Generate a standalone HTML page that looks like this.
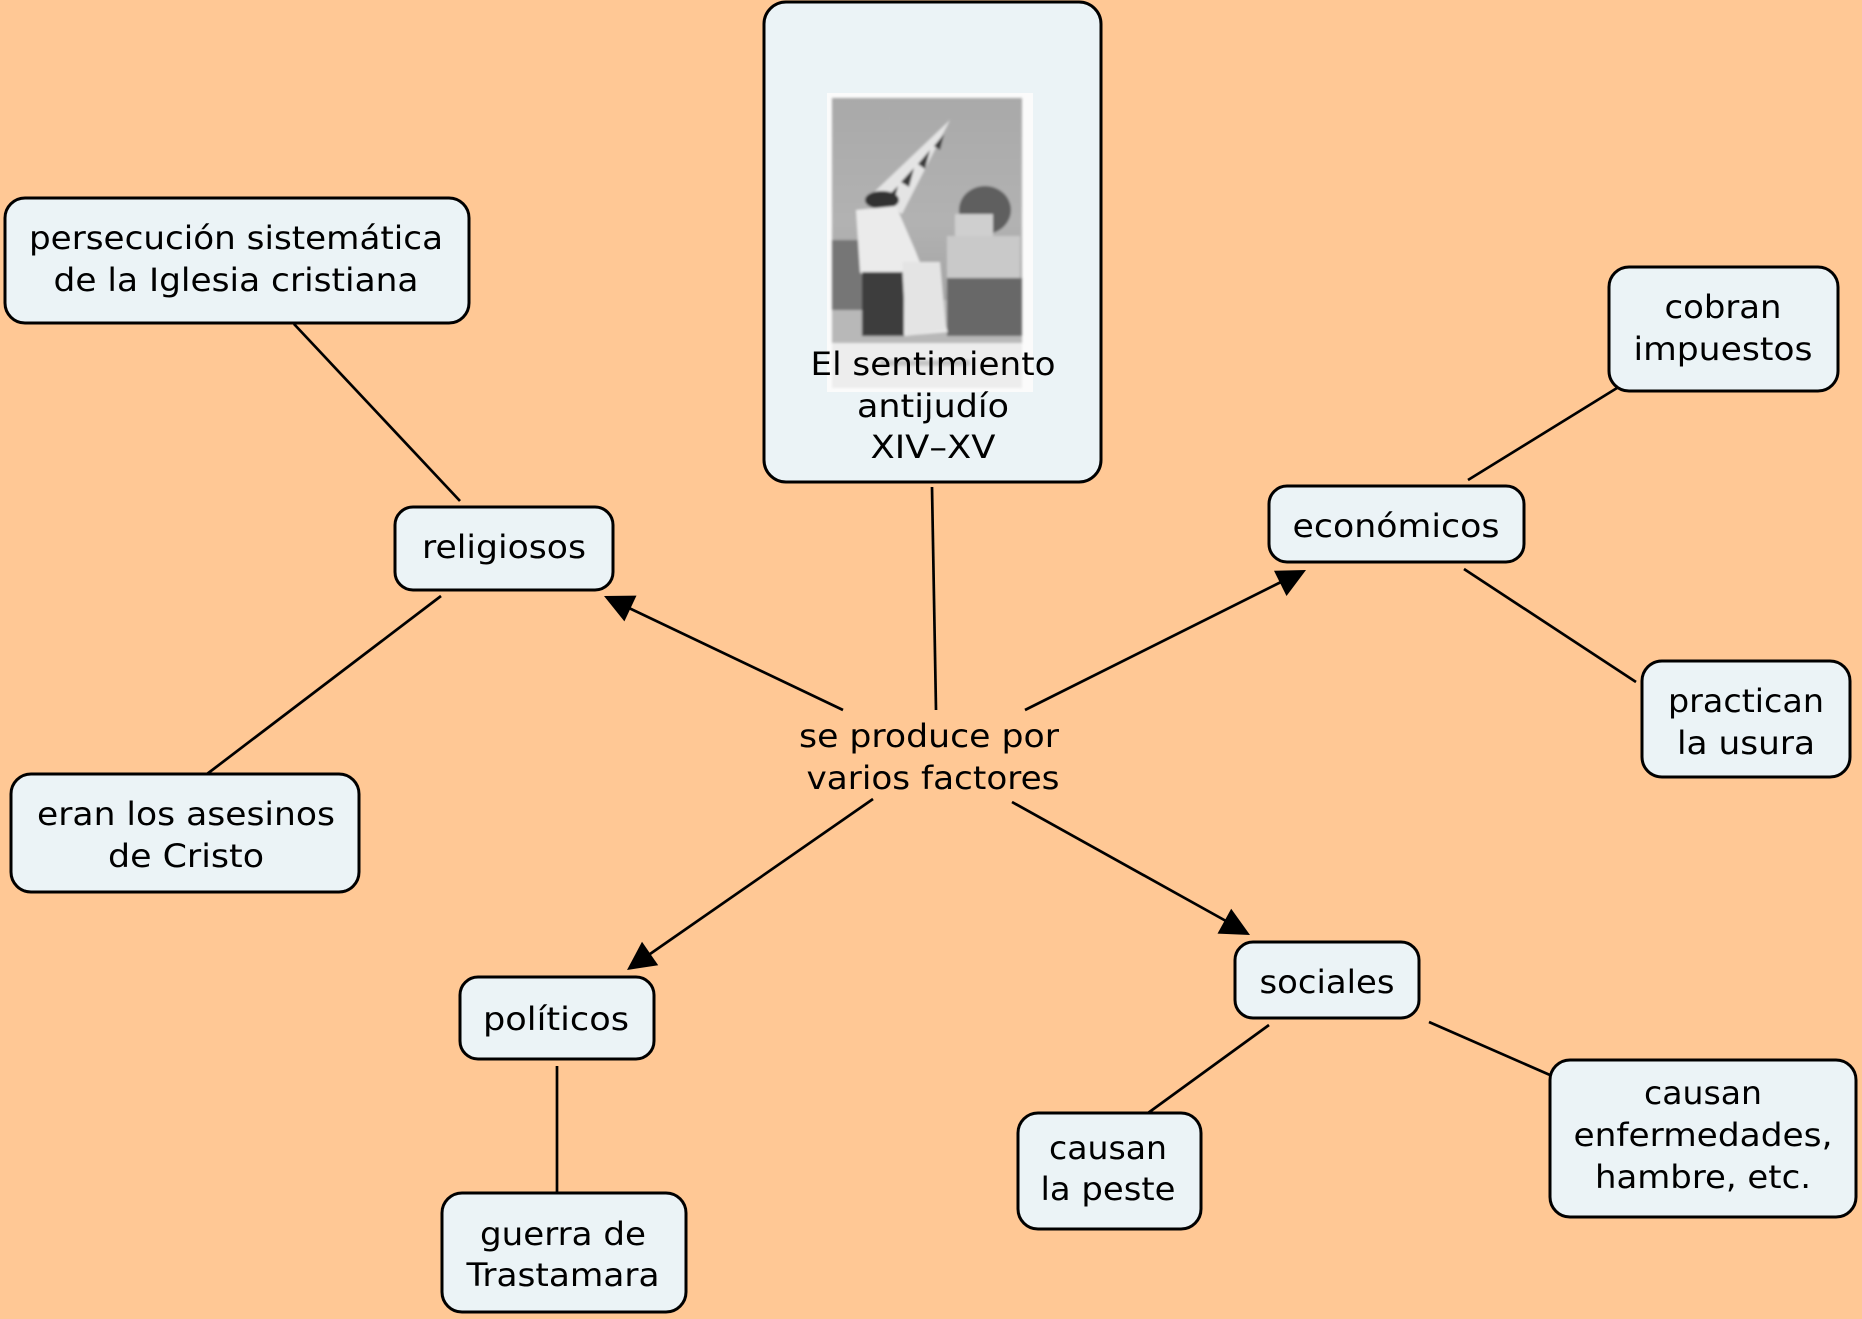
<!DOCTYPE html>
<html><head><meta charset="utf-8">
<style>
html,body{margin:0;padding:0;background:#ffc895;}
svg{display:block;}
text{font-family:"DejaVu Sans","Liberation Sans",sans-serif;font-size:32px;fill:#000;}
</style></head>
<body>
<svg width="1862" height="1319" viewBox="0 0 1862 1319" xmlns="http://www.w3.org/2000/svg">
<defs>
<linearGradient id="eg" x1="0" y1="0" x2="0" y2="1">
<stop offset="0" stop-color="#a9a9a9"/>
<stop offset="0.5" stop-color="#b2b2b2"/>
<stop offset="1" stop-color="#9a9a9a"/>
</linearGradient>
<filter id="bl"><feGaussianBlur stdDeviation="1.4"/></filter>
</defs>
<rect width="1862" height="1319" fill="#ffc895"/>

<!-- connectors -->
<g stroke="#000" stroke-width="2.7" fill="none">
<line x1="932" y1="487" x2="936" y2="710"/>
<line x1="843" y1="710" x2="629" y2="608"/>
<line x1="1025" y1="710" x2="1281" y2="582"/>
<line x1="873" y1="799" x2="650" y2="954"/>
<line x1="1012" y1="802" x2="1226" y2="921"/>
<line x1="294" y1="324" x2="460" y2="501"/>
<line x1="441" y1="596" x2="207" y2="774"/>
<line x1="557" y1="1066" x2="557" y2="1193"/>
<line x1="1468" y1="480" x2="1617" y2="388"/>
<line x1="1464" y1="569" x2="1636" y2="682"/>
<line x1="1269" y1="1025" x2="1148" y2="1113"/>
<line x1="1429" y1="1022" x2="1550" y2="1075"/>
</g>
<g fill="#000">
<polygon points="604,596 636.5,595.6 624.4,621.4"/>
<polygon points="1306,570 1286.5,596 1274,570.8"/>
<polygon points="627,970 642,941.8 658.2,965.2"/>
<polygon points="1250,935 1217.5,933.6 1231.2,908.8"/>
</g>

<!-- nodes -->
<g fill="#ebf3f6" stroke="#000" stroke-width="3">
<rect x="764" y="2" width="337" height="480" rx="22"/>
<rect x="5" y="198" width="464" height="125" rx="20"/>
<rect x="395" y="507" width="218" height="83" rx="18"/>
<rect x="11" y="774" width="348" height="118" rx="20"/>
<rect x="460" y="977" width="194" height="82" rx="18"/>
<rect x="442" y="1193" width="244" height="119" rx="20"/>
<rect x="1269" y="486" width="255" height="76" rx="18"/>
<rect x="1609" y="267" width="229" height="124" rx="20"/>
<rect x="1642" y="661" width="208" height="116" rx="20"/>
<rect x="1235" y="942" width="184" height="76" rx="18"/>
<rect x="1018" y="1113" width="183" height="116" rx="20"/>
<rect x="1550" y="1060" width="306" height="157" rx="20"/>
</g>

<!-- etching image -->
<rect x="827" y="93" width="206" height="299" fill="#fbfbfb"/>
<g filter="url(#bl)">
<rect x="832" y="98" width="190" height="250" fill="url(#eg)"/>
<rect x="832" y="300" width="190" height="48" fill="#b8b8b8"/>
<rect x="832" y="240" width="30" height="70" fill="#767676"/>
<rect x="947" y="278" width="75" height="58" fill="#686868"/>
<rect x="947" y="236" width="73" height="42" fill="#c9c9c9"/>
<ellipse cx="985" cy="210" rx="26" ry="24" fill="#5e5e5e"/>
<rect x="955" y="214" width="38" height="22" fill="#cfcfcf"/>
<polygon points="950,120 870,196 902,214" fill="#e4e4e4"/>
<polygon points="944,134 934,146 940,150" fill="#3a3a3a"/>
<polygon points="930,150 918,164 925,169" fill="#3a3a3a"/>
<polygon points="914,168 901,182 909,187" fill="#3a3a3a"/>
<polygon points="898,186 886,198 894,202" fill="#3a3a3a"/>
<ellipse cx="882" cy="200" rx="17" ry="9" fill="#303030"/>
<polygon points="856,210 896,206 915,250 935,300 948,332 902,336 884,300 860,272" fill="#ebebeb"/>
<rect x="862" y="272" width="42" height="64" fill="#3c3c3c"/>
<polygon points="902,262 940,262 946,330 906,336" fill="#e4e4e4"/>
<rect x="832" y="343" width="190" height="45" fill="#ededed"/>
<rect x="880" y="360" width="90" height="6" fill="#c6c6c6"/>
</g>

<!-- labels -->
<g text-anchor="middle">
<text x="933" y="375" textLength="245" lengthAdjust="spacingAndGlyphs">El sentimiento</text>
<text x="933" y="417" textLength="152" lengthAdjust="spacingAndGlyphs">antijudío</text>
<text x="933" y="458" textLength="125" lengthAdjust="spacingAndGlyphs">XIV–XV</text>

<text x="236" y="249" textLength="414" lengthAdjust="spacingAndGlyphs">persecución sistemática</text>
<text x="236" y="291" textLength="365" lengthAdjust="spacingAndGlyphs">de la Iglesia cristiana</text>

<text x="504" y="558" textLength="164" lengthAdjust="spacingAndGlyphs">religiosos</text>

<text x="186" y="825" textLength="298" lengthAdjust="spacingAndGlyphs">eran los asesinos</text>
<text x="186" y="867" textLength="156" lengthAdjust="spacingAndGlyphs">de Cristo</text>

<text x="556" y="1030" textLength="146" lengthAdjust="spacingAndGlyphs">políticos</text>

<text x="563" y="1245" textLength="166" lengthAdjust="spacingAndGlyphs">guerra de</text>
<text x="563" y="1286" textLength="193" lengthAdjust="spacingAndGlyphs">Trastamara</text>

<text x="1396" y="537" textLength="207" lengthAdjust="spacingAndGlyphs">económicos</text>

<text x="1723" y="318" textLength="117" lengthAdjust="spacingAndGlyphs">cobran</text>
<text x="1723" y="360" textLength="179" lengthAdjust="spacingAndGlyphs">impuestos</text>

<text x="1746" y="712" textLength="156" lengthAdjust="spacingAndGlyphs">practican</text>
<text x="1746" y="754" textLength="138" lengthAdjust="spacingAndGlyphs">la usura</text>

<text x="1327" y="993" textLength="135" lengthAdjust="spacingAndGlyphs">sociales</text>

<text x="1108" y="1159" textLength="118" lengthAdjust="spacingAndGlyphs">causan</text>
<text x="1108" y="1200" textLength="135" lengthAdjust="spacingAndGlyphs">la peste</text>

<text x="1703" y="1104" textLength="118" lengthAdjust="spacingAndGlyphs">causan</text>
<text x="1703" y="1146" textLength="259" lengthAdjust="spacingAndGlyphs">enfermedades,</text>
<text x="1703" y="1188" textLength="216" lengthAdjust="spacingAndGlyphs">hambre, etc.</text>

<text x="929" y="747" textLength="260" lengthAdjust="spacingAndGlyphs">se produce por</text>
<text x="933" y="789" textLength="253" lengthAdjust="spacingAndGlyphs">varios factores</text>
</g>
</svg>
</body></html>
